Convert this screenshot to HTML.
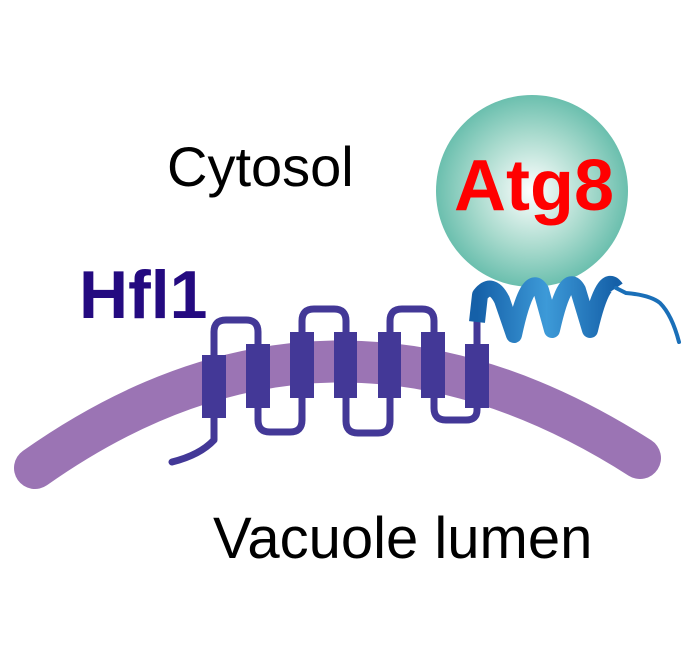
<!DOCTYPE html>
<html><head><meta charset="utf-8"><style>
html,body{margin:0;padding:0;background:#fff;}
svg{display:block;}
</style></head><body>
<svg width="700" height="665" viewBox="0 0 700 665" xmlns="http://www.w3.org/2000/svg">
<defs>
<radialGradient id="g" cx="0.5" cy="0.5" r="0.5">
<stop offset="0" stop-color="#ffffff"/>
<stop offset="0.6" stop-color="#a8dacd"/>
<stop offset="1" stop-color="#6bbfae"/>
</radialGradient>
<linearGradient id="hb" x1="0" y1="0" x2="1" y2="0">
<stop offset="0" stop-color="#1560a8"/><stop offset="0.5" stop-color="#3d9ad8"/><stop offset="1" stop-color="#1560a8"/>
</linearGradient>
</defs>
<path d="M35 468 Q 330 260 640 458" fill="none" stroke="#9b74b4" stroke-width="42" stroke-linecap="round"/>
<circle cx="532" cy="191" r="96" fill="url(#g)"/>
<text x="454" y="210" font-family="Liberation Sans, sans-serif" font-weight="bold" font-size="72" fill="#ff0000">Atg8</text>
<text x="167" y="186" font-family="Liberation Sans, sans-serif" font-size="56" fill="#000">Cytosol</text>
<text x="79" y="318" font-family="Liberation Sans, sans-serif" font-weight="bold" font-size="68" fill="#240a80">Hfl1</text>
<text x="213" y="558" font-family="Liberation Sans, sans-serif" font-size="58" fill="#000">Vacuole lumen</text>
<g fill="none" stroke="#433897" stroke-width="7" stroke-linecap="round" stroke-linejoin="round">
<path d="M172 462 Q 200 455 214 440 L214 332 Q214 320 226 320 L246 320 Q258 320 258 332 L258 420 Q258 432 270 432 L290 432 Q302 432 302 420 L302 321 Q302 309 314 309 L334 309 Q346 309 346 321 L346 421 Q346 433 358 433 L378 433 Q390 433 390 421 L390 321 Q390 309 402 309 L422 309 Q434 309 434 321 L434 408 Q434 420 446 420 L466 420 Q477 420 477 410 L477 322"/>
</g>
<g fill="#433897">
<rect x="202" y="355" width="24" height="63"/>
<rect x="246" y="344" width="24" height="64"/>
<rect x="290" y="332" width="24" height="66"/>
<rect x="334" y="332" width="23" height="66"/>
<rect x="378" y="332" width="23" height="66"/>
<rect x="421" y="332" width="24" height="66"/>
<rect x="465" y="344" width="24" height="64"/>
</g>
<path d="M477 322 L480 295 Q492 280 502 300 L514 335 Q528 270 541 290 L552 330 Q566 268 578 290 L590 330 Q604 270 616 288" fill="none" stroke="url(#hb)" stroke-width="16" stroke-linejoin="round"/>
<path d="M616 288 L626 293 Q650 295 660 303 Q672 315 679 342" fill="none" stroke="#1a6fb8" stroke-width="4" stroke-linecap="round"/>
</svg>
</body></html>
